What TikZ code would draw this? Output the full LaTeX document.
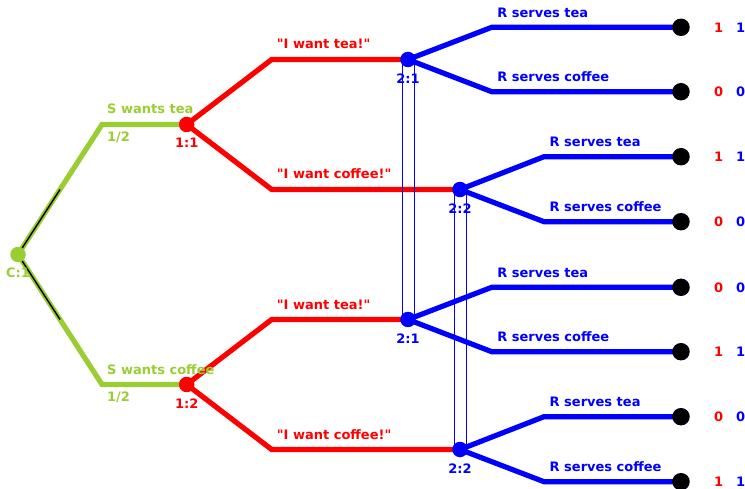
\documentclass[tikz,border=0pt]{standalone}
\usepackage{fontspec}
\setmainfont{DejaVu Sans}[Ligatures=TeXOff]
\usetikzlibrary{calc,backgrounds,positioning}
\definecolor{sgreen}{RGB}{154,205,50}

\begin{document}
\begin{tikzpicture}[x=1pt,y=-1pt,
	every node/.style={font=\fontsize{13}{15}\selectfont\bfseries,inner sep=0pt},
	dot/.style={circle,fill=#1,minimum size=15.5pt},
	leaf/.style={circle,fill=black,minimum size=17.5pt},
	branch/.style={line width=5.2pt,#1},
	infoset/.style={blue,line width=1pt}]
	\useasboundingbox (0,0) rectangle (745,489);

	% nodes
	\node[dot=sgreen] (C) at (18,254.5) {};
	\node[dot=red] (n11) at (186.7,124.5) {};
	\node[dot=red] (n12) at (186.7,384.5) {};
	\node[dot=blue] (n21a) at (408,59.5) {};
	\node[dot=blue] (n22a) at (460,189.5) {};
	\node[dot=blue] (n21b) at (408,319.5) {};
	\node[dot=blue] (n22b) at (460,449.5) {};
	\node[leaf] (t1) at (681,27.3) {};
	\node[leaf] (t2) at (681,91.7) {};
	\node[leaf] (t3) at (681,156.7) {};
	\node[leaf] (t4) at (681,221.7) {};
	\node[leaf] (t5) at (681,287.3) {};
	\node[leaf] (t6) at (681,351.7) {};
	\node[leaf] (t7) at (681,416.7) {};
	\node[leaf] (t8) at (681,481.7) {};

	% bends
	\coordinate (g1) at (102,124.5);
	\coordinate (g2) at (102,384.5);
	\coordinate (r1) at (271.7,59.5);
	\coordinate (r2) at (271.7,189.5);
	\coordinate (r3) at (271.7,319.5);
	\coordinate (r4) at (271.7,449.5);
	\coordinate (b1) at (491.7,27.3);
	\coordinate (b2) at (491.7,91.7);
	\coordinate (b3) at (544,156.7);
	\coordinate (b4) at (544,221.7);
	\coordinate (b5) at (491.7,287.3);
	\coordinate (b6) at (491.7,351.7);
	\coordinate (b7) at (544,416.7);
	\coordinate (b8) at (544,481.7);

	\begin{scope}[on background layer]
		\draw[branch=sgreen] (C.center)--(g1)--(n11.center);
		\draw[branch=sgreen] (C.center)--(g2)--(n12.center);
		\draw[black,line width=1.4pt] (C.center)--($(C)!.5!(g1)$);
		\draw[black,line width=1.4pt] (C.center)--($(C)!.5!(g2)$);

		\draw[branch=red] (n11.center)--(r1)--(n21a.center);
		\draw[branch=red] (n11.center)--(r2)--(n22a.center);
		\draw[branch=red] (n12.center)--(r3)--(n21b.center);
		\draw[branch=red] (n12.center)--(r4)--(n22b.center);

		\draw[branch=blue] (n21a.center)--(b1)--(t1.center);
		\draw[branch=blue] (n21a.center)--(b2)--(t2.center);
		\draw[branch=blue] (n22a.center)--(b3)--(t3.center);
		\draw[branch=blue] (n22a.center)--(b4)--(t4.center);
		\draw[branch=blue] (n21b.center)--(b5)--(t5.center);
		\draw[branch=blue] (n21b.center)--(b6)--(t6.center);
		\draw[branch=blue] (n22b.center)--(b7)--(t7.center);
		\draw[branch=blue] (n22b.center)--(b8)--(t8.center);

		% information sets
		\draw[infoset] ([xshift=-6pt]n21a.center)--([xshift=-6pt]n21b.center);
		\draw[infoset] ([xshift=6pt]n21a.center)--([xshift=6pt]n21b.center);
		\draw[infoset] ([xshift=-6pt]n22a.center)--([xshift=-6pt]n22b.center);
		\draw[infoset] ([xshift=6pt]n22a.center)--([xshift=6pt]n22b.center);
	\end{scope}

	% player labels
	\node[sgreen,anchor=base] (lC) at ([shift={(0,23)}]C.center) {C:1};
	\node[red,anchor=base] (l11) at ([shift={(0,23.5)}]n11.center) {1:1};
	\node[red,anchor=base] (l12) at ([shift={(0,23.5)}]n12.center) {1:2};
	\node[blue,anchor=base] (l21a) at ([shift={(0,24)}]n21a.center) {2:1};
	\node[blue,anchor=base] (l22a) at ([shift={(0,24)}]n22a.center) {2:2};
	\node[blue,anchor=base] (l21b) at ([shift={(0,24)}]n21b.center) {2:1};
	\node[blue,anchor=base] (l22b) at ([shift={(0,24)}]n22b.center) {2:2};

	% action labels
	\node[sgreen,anchor=base west] (a1) at ([shift={(5,-10.5)}]g1) {S wants tea};
	\node[sgreen,anchor=base west] (p1) at ([shift={(5,17)}]g1) {1/2};
	\node[sgreen,anchor=base west] (a2) at ([shift={(5,-10.5)}]g2) {S wants coffee};
	\node[sgreen,anchor=base west] (p2) at ([shift={(5,17)}]g2) {1/2};
	\node[red,anchor=base west] (m1) at ([shift={(5,-10.5)}]r1) {"I want tea!"};
	\node[red,anchor=base west] (m2) at ([shift={(5,-10.5)}]r2) {"I want coffee!"};
	\node[red,anchor=base west] (m3) at ([shift={(5,-10.5)}]r3) {"I want tea!"};
	\node[red,anchor=base west] (m4) at ([shift={(5,-10.5)}]r4) {"I want coffee!"};
	\node[blue,anchor=base west] (s1) at ([shift={(5.5,-10)}]b1) {R serves tea};
	\node[blue,anchor=base west] (s2) at ([shift={(5.5,-10)}]b2) {R serves coffee};
	\node[blue,anchor=base west] (s3) at ([shift={(5.5,-10)}]b3) {R serves tea};
	\node[blue,anchor=base west] (s4) at ([shift={(5.5,-10)}]b4) {R serves coffee};
	\node[blue,anchor=base west] (s5) at ([shift={(5.5,-10)}]b5) {R serves tea};
	\node[blue,anchor=base west] (s6) at ([shift={(5.5,-10)}]b6) {R serves coffee};
	\node[blue,anchor=base west] (s7) at ([shift={(5.5,-10)}]b7) {R serves tea};
	\node[blue,anchor=base west] (s8) at ([shift={(5.5,-10)}]b8) {R serves coffee};

	% payoffs
	\node[red,right=24pt of t1] (u1) {1}; \node[blue,right=12.5pt of u1] (v1) {1};
	\node[red,right=24pt of t2] (u2) {0}; \node[blue,right=12.5pt of u2] (v2) {0};
	\node[red,right=24pt of t3] (u3) {1}; \node[blue,right=12.5pt of u3] (v3) {1};
	\node[red,right=24pt of t4] (u4) {0}; \node[blue,right=12.5pt of u4] (v4) {0};
	\node[red,right=24pt of t5] (u5) {0}; \node[blue,right=12.5pt of u5] (v5) {0};
	\node[red,right=24pt of t6] (u6) {1}; \node[blue,right=12.5pt of u6] (v6) {1};
	\node[red,right=24pt of t7] (u7) {0}; \node[blue,right=12.5pt of u7] (v7) {0};
	\node[red,right=24pt of t8] (u8) {1}; \node[blue,right=12.5pt of u8] (v8) {1};
\end{tikzpicture}
\end{document}
